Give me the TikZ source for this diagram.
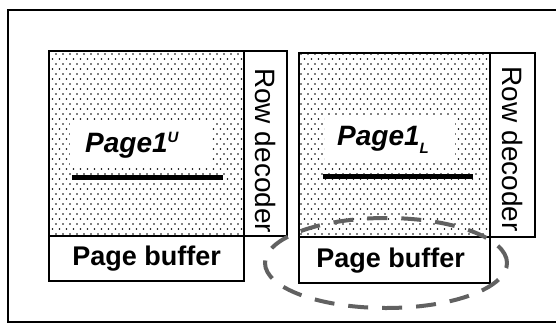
\documentclass[tikz,border=0pt]{standalone}
\usepackage{fontspec}
\setmainfont{Liberation Sans}
\usetikzlibrary{patterns.meta}
% staggered dot grid for the cell arrays
\pgfdeclarepattern{
  name=staggerdots,
  type=uncolored,
  bottom left={\pgfpoint{-1pt}{-1pt}},
  top right={\pgfpoint{6pt}{9pt}},
  tile size={\pgfpoint{7pt}{10pt}},
  code={
    \pgfpathcircle{\pgfpoint{0pt}{0pt}}{0.85pt}
    \pgfpathcircle{\pgfpoint{3.5pt}{5pt}}{0.85pt}
    \pgfusepath{fill}
  }
}
\begin{document}
\begin{tikzpicture}[x=1pt,y=-1pt,
  planebox/.style={draw=black, line width=2.4pt, inner sep=0pt, anchor=north west},
  cellarray/.style={planebox, pattern=staggerdots, pattern color=black},
  textbg/.style={inner sep=0pt, fill=white, anchor=north west},
  bufftext/.style={font=\fontsize{27}{29}\selectfont\bfseries},
  dectext/.style={font=\fontsize{28}{30}\selectfont, rotate=-90},
  pagetext/.style={font=\fontsize{28}{30}\selectfont\bfseries\itshape, inner sep=0pt, anchor=base west},
  wordline/.style={line width=5pt},
  selection/.style={draw=black!62, line width=4pt, dash pattern=on 20pt off 14pt}
]
\useasboundingbox (0,0) rectangle (556,324);
% outer frame (right side runs past the edge)
\draw[line width=2pt] (570,10) -- (8,10) -- (8,322) -- (570,322);

% ---- left plane ----
\node[cellarray, minimum width=195pt, minimum height=185pt] (arrL) at (48,50) {};
\node[planebox, minimum width=43pt, minimum height=185pt] (decL) at (243,50) {};
\node[planebox, minimum width=195pt, minimum height=45pt] (bufL) at (48,235) {};
\node[textbg, minimum width=142pt, minimum height=45pt] (bgL) at (70,120) {};
\node[pagetext] (pgL) at (85,152) {Page1\raisebox{10pt}{\fontsize{15}{15}\selectfont U}};
\draw[wordline] (72,177) -- (223,177);
\node[dectext] (rdL) at ([yshift=-7pt]decL.center) {Row decoder};
\node[bufftext] (pbL) at (bufL.center) {Page buffer};

% ---- right plane ----
\node[cellarray, minimum width=191pt, minimum height=184pt] (arrR) at (298,52) {};
\node[planebox, minimum width=45pt, minimum height=184pt] (decR) at (489,52) {};
\node[planebox, minimum width=191pt, minimum height=46pt] (bufR) at (298,236) {};
\node[textbg, minimum width=130pt, minimum height=42pt] (bgR) at (325,118) {};
\node[pagetext] (pgR) at (337,145) {Page1\raisebox{-8pt}{\fontsize{15}{15}\selectfont L}};
\draw[wordline] (323,176) -- (473,176);
\node[dectext] (rdR) at ([yshift=-4pt]decR.center) {Row decoder};
\node[bufftext] (pbR) at ([xshift=-4pt]bufR.center) {Page buffer};

% dashed ring around the right page buffer
\draw[selection] (386,263) ellipse [x radius=121pt, y radius=45pt];
\end{tikzpicture}
\end{document}
